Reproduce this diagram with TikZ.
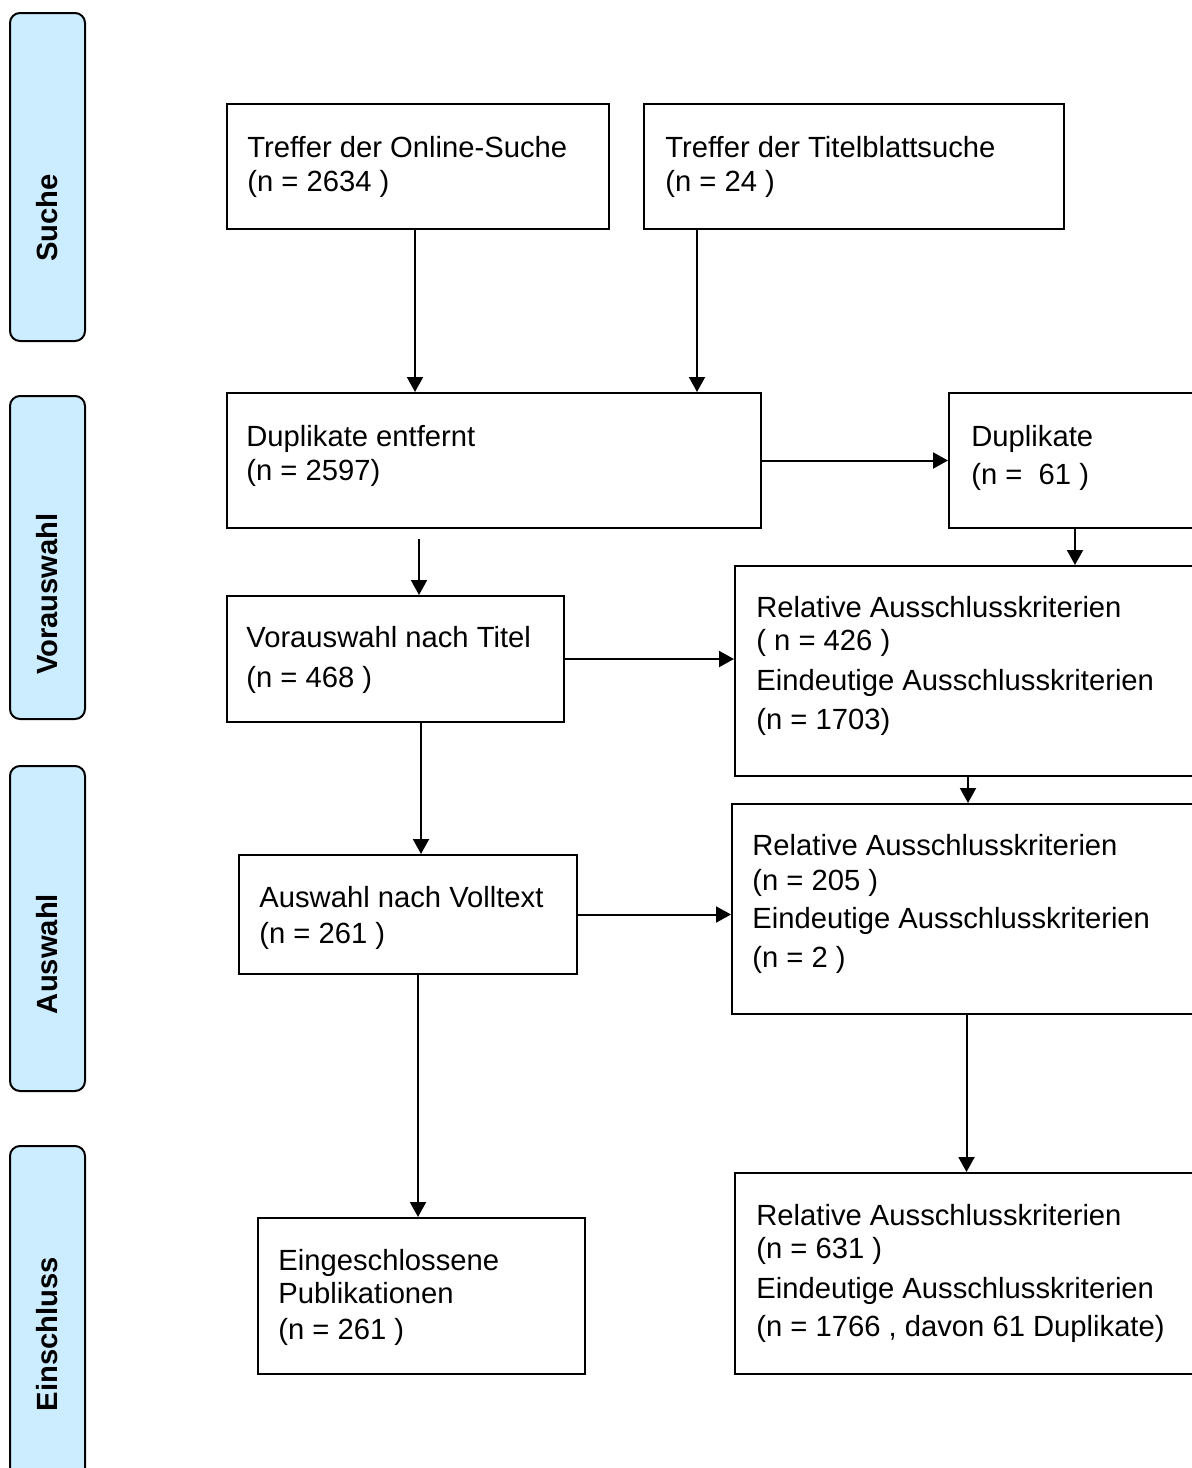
\documentclass[tikz,border=0pt]{standalone}
\usepackage{fontspec}
\setmainfont{Liberation Sans}
\usetikzlibrary{arrows.meta}
\definecolor{phasebg}{HTML}{CCECFF}

\begin{document}
\begin{tikzpicture}[x=0.5pt, y=-0.5pt, every node/.style={inner sep=0pt},
    font=\fontsize{14.6}{16.5}\selectfont]
  \tikzstyle{box}=[draw, line width=1pt, anchor=north west]
  \tikzstyle{txt}=[anchor=north west, align=left]
  \tikzstyle{phase}=[draw, line width=1pt, fill=phasebg, rounded corners=5pt, minimum width=37.5pt, anchor=north]
  \tikzstyle{edge}=[-{Triangle[width=8pt, length=7.5pt]}, line width=1pt]
  \useasboundingbox (0,0) rectangle (1192,1468);
  \clip (0,0) rectangle (1192,1468);
  % phases
  \foreach \i/\t/\b/\m/\name in {0/12/340/218/Suche, 1/395/718/594/Vorauswahl,
      2/765/1090/954/Auswahl, 3/1145/1500/1334/Einschluss} {
    \node[phase, minimum height={(\b-\t)*0.5pt}] (phase\i) at (47.5,\t) {};
    \node[rotate=90, font=\fontsize{14.6}{16.5}\selectfont\bfseries] (phaseT\i) at (47.5,\m) {\name};
  }
  % boxes
  \node[box, minimum width=191pt, minimum height=62.5pt] (online) at (226,103) {};
  \node[txt] (onlineT) at (247,136) {Treffer der Online-Suche\\[0.5pt](n = 2634 )};
  \node[box, minimum width=210pt, minimum height=62.5pt] (titel) at (643,103) {};
  \node[txt] (titelT) at (665,136) {Treffer der Titelblattsuche\\[0.5pt](n = 24 )};
  \node[box, minimum width=267pt, minimum height=67.5pt] (dupe) at (226,392) {};
  \node[txt] (dupeT) at (246,425) {Duplikate entfernt\\[0.5pt](n = 2597)};
  \node[box, minimum width=126pt, minimum height=67.5pt] (dup) at (948,392) {};
  \node[txt] (dupT) at (971,425) {Duplikate\\[2.5pt](n = ~61 )};
  \node[box, minimum width=233pt, minimum height=105pt] (rel1) at (734,565) {};
  \node[txt] (rel1T) at (756,596) {Relative Ausschlusskriterien\\( n = 426 )\\[3.5pt]%
    Eindeutige Ausschlusskriterien\\[3pt](n = 1703)};
  \node[box, minimum width=168.5pt, minimum height=63pt] (vor) at (226,595) {};
  \node[txt] (vorT) at (246,626) {Vorauswahl nach Titel\\[3.5pt](n = 468 )};
  \node[box, minimum width=234.5pt, minimum height=105pt] (rel2) at (731,803) {};
  \node[txt] (rel2T) at (752,834) {Relative Ausschlusskriterien\\[1pt](n = 205 )\\[2.5pt]%
    Eindeutige Ausschlusskriterien\\[3pt](n = 2 )};
  \node[box, minimum width=169pt, minimum height=59.5pt] (aus) at (238,854) {};
  \node[txt] (ausT) at (259,886) {Auswahl nach Volltext\\[1.5pt](n = 261 )};
  \node[box, minimum width=163.5pt, minimum height=78pt] (ein) at (257,1217) {};
  \node[txt] (einT) at (278,1249) {Eingeschlossene\\Publikationen\\[1.5pt](n = 261 )};
  \node[box, minimum width=233pt, minimum height=100.5pt] (rel3) at (734,1172) {};
  \node[txt] (rel3T) at (756,1204) {Relative Ausschlusskriterien\\(n = 631 )\\[3.5pt]%
    Eindeutige Ausschlusskriterien\\[2.5pt](n = 1766 , davon 61 Duplikate)};
  % arrows
  \draw[edge] ([xshift=-1.5pt]online.south) -- ([xshift=-1.5pt]online.south |- dupe.north);
  \draw[edge] ([xshift=-78.5pt]titel.south) -- ([xshift=-78.5pt]titel.south |- dupe.north);
  \draw[edge] (dupe.east) -- (dup.west);
  \draw[edge] (dup.south) -- (dup.south |- rel1.north);
  \draw[edge] ([xshift=-37.5pt, yshift=-5pt]dupe.south) -- ([xshift=-37.5pt]dupe.south |- vor.north);
  \draw[edge] (vor.east) -- (vor.east -| rel1.west);
  \draw[edge] ([xshift=12.75pt]vor.south) -- ([xshift=12.75pt]vor.south |- aus.north);
  \draw[edge] (rel1.south) -- (rel1.south |- rel2.north);
  \draw[edge] (aus.east) -- (aus.east -| rel2.west);
  \draw[edge] ([xshift=5pt]aus.south) -- ([xshift=5pt]aus.south |- ein.north);
  \draw[edge] (rel2.south) -- (rel2.south |- rel3.north);
\end{tikzpicture}
\end{document}
